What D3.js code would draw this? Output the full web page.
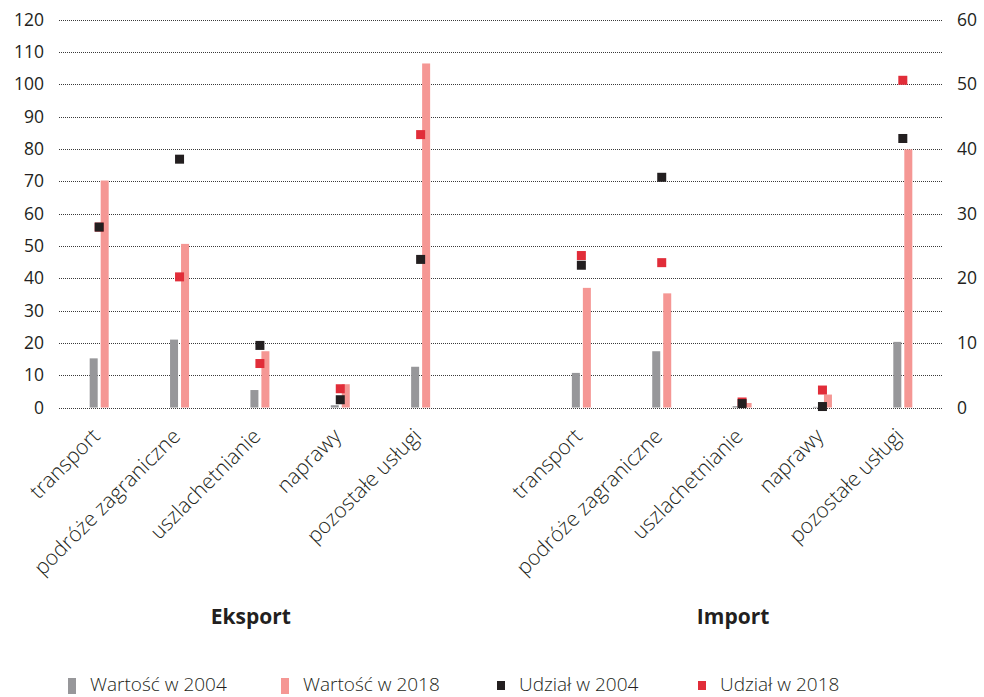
<!DOCTYPE html>
<html>
<head>
<meta charset="utf-8">
<script src="https://cdn.jsdelivr.net/npm/d3@7"></script>
<style>
  html, body { margin: 0; padding: 0; background: #fff; }
  svg { display: block; }
  text { font-family: "Open Sans", sans-serif; fill: #231f20; }
</style>
</head>
<body>
<svg id="chart" width="984" height="697"></svg>
<script>
// Services trade: values (bn, left axis) and shares (%, right axis)
const groups = ["Eksport", "Import"];
const categories = ["transport", "podróże zagraniczne", "uszlachetnianie", "naprawy", "pozostałe usługi"];

const value2004 = {
  Eksport: [15.2, 21.0, 5.4, 0.7, 12.6],
  Import:  [10.7, 17.4, 0.4, 0.2, 20.3]
};
const value2018 = {
  Eksport: [70.2, 50.6, 17.4, 7.2, 106.4],
  Import:  [37.0, 35.3, 1.4, 4.0, 79.8]
};
const share2004 = {
  Eksport: [27.9, 38.4, 9.6, 1.2, 22.9],
  Import:  [22.0, 35.6, 0.6, 0.15, 41.6]
};
const share2018 = {
  Eksport: [27.9, 20.2, 6.8, 2.9, 42.2],
  Import:  [23.5, 22.4, 0.85, 2.7, 50.6]
};

const leftTicks = d3.range(0, 121, 10);
const rightTicks = [0, 10, 20, 30, 40, 50, 60];

const legendItems = [
  { label: "Wartość w 2004", kind: "bar", color: "#97979a" },
  { label: "Wartość w 2018", kind: "bar", color: "#f59794" },
  { label: "Udział w 2004", kind: "dot", color: "#231f20" },
  { label: "Udział w 2018", kind: "dot", color: "#e12d39" }
];

const colors = { v2004: "#97979a", v2018: "#f59794", s2004: "#231f20", s2018: "#e12d39" };

const svg = d3.select("#chart");
const plotLeft = 59, plotRight = 943, plotTop = 19.5, plotBottom = 407.5;

// slot keys: five export categories, a gap, five import categories
const slots = [];
groups.forEach((g, gi) => {
  categories.forEach((c, ci) => slots.push(g + "|" + ci));
  if (gi === 0) slots.push("gap");
});

const x = d3.scaleBand().domain(slots).range([plotLeft, plotRight]).padding(0);
const yL = d3.scaleLinear().domain([0, 120]).range([plotBottom, plotTop]);
const yR = d3.scaleLinear().domain([0, 60]).range([plotBottom, plotTop]);

// dotted gridlines
svg.append("g").selectAll("line").data(leftTicks).join("line")
  .attr("x1", plotLeft).attr("x2", plotRight)
  .attr("y1", d => Math.round(yL(d)) + 0.5).attr("y2", d => Math.round(yL(d)) + 0.5)
  .attr("stroke", "#3a3a3a").attr("stroke-width", 1)
  .attr("stroke-dasharray", "1,1");

// left axis
const axL = svg.append("g").attr("transform", `translate(${plotLeft},0)`)
  .call(d3.axisLeft(yL).tickValues(leftTicks).tickSize(0).tickPadding(15));
axL.select(".domain").remove();
axL.selectAll("text").attr("font-size", 17.5).attr("fill", "#231f20")
  .style("font-family", '"Open Sans", sans-serif');

// right axis
const axR = svg.append("g").attr("transform", `translate(${plotRight},0)`)
  .call(d3.axisRight(yR).tickValues(rightTicks).tickSize(0).tickPadding(14));
axR.select(".domain").remove();
axR.selectAll("text").attr("font-size", 17.5).attr("fill", "#231f20")
  .style("font-family", '"Open Sans", sans-serif');

const barW = 8, gapW = 3;

groups.forEach(g => {
  const rows = categories.map((c, i) => ({
    key: g + "|" + i, cat: c,
    v04: value2004[g][i], v18: value2018[g][i],
    s04: share2004[g][i], s18: share2018[g][i]
  }));
  const cx = d => x(d.key) + x.bandwidth() / 2;

  const gg = svg.append("g");
  gg.selectAll("rect.v04").data(rows).join("rect").attr("class", "v04")
    .attr("x", d => cx(d) - gapW / 2 - barW)
    .attr("y", d => yL(d.v04)).attr("width", barW)
    .attr("height", d => yL(0) - yL(d.v04)).attr("fill", colors.v2004);
  gg.selectAll("rect.v18").data(rows).join("rect").attr("class", "v18")
    .attr("x", d => cx(d) + gapW / 2)
    .attr("y", d => yL(d.v18)).attr("width", barW)
    .attr("height", d => yL(0) - yL(d.v18)).attr("fill", colors.v2018);

  const sq = 9;
  gg.selectAll("rect.s18").data(rows).join("rect").attr("class", "s18")
    .attr("x", d => cx(d) - sq / 2).attr("y", d => yR(d.s18) - sq / 2)
    .attr("width", sq).attr("height", sq).attr("fill", colors.s2018);
  gg.selectAll("rect.s04").data(rows).join("rect").attr("class", "s04")
    .attr("x", d => cx(d) - sq / 2).attr("y", d => yR(d.s04) - sq / 2)
    .attr("width", sq).attr("height", sq).attr("fill", colors.s2004);

  // rotated category labels
  gg.selectAll("text.cat").data(rows).join("text").attr("class", "cat")
    .attr("transform", d => `translate(${cx(d) + 2},${plotBottom + 30}) rotate(-45)`)
    .attr("text-anchor", "end")
    .attr("font-size", 21).attr("font-weight", 300).attr("fill", "#333")
    .text(d => d.cat);

  // group title
  const gx = (cx(rows[0]) + cx(rows[rows.length - 1])) / 2 - 9;
  svg.append("text").attr("x", gx).attr("y", 624)
    .attr("text-anchor", "middle").attr("font-size", 21).attr("font-weight", 700)
    .text(g);
});

// legend
const legendX = [68, 281, 497, 698];
const lg = svg.append("g");
legendItems.forEach((it, i) => {
  const lx = legendX[i];
  if (it.kind === "bar") {
    lg.append("rect").attr("x", lx).attr("y", 678).attr("width", 8).attr("height", 16).attr("fill", it.color);
  } else {
    lg.append("rect").attr("x", lx).attr("y", 681).attr("width", 8).attr("height", 9).attr("fill", it.color);
  }
  lg.append("text").attr("x", lx + 22).attr("y", 691)
    .attr("font-size", 19).attr("font-weight", 300).attr("fill", "#3a3a3a")
    .text(it.label);
});
</script>
</body>
</html>
